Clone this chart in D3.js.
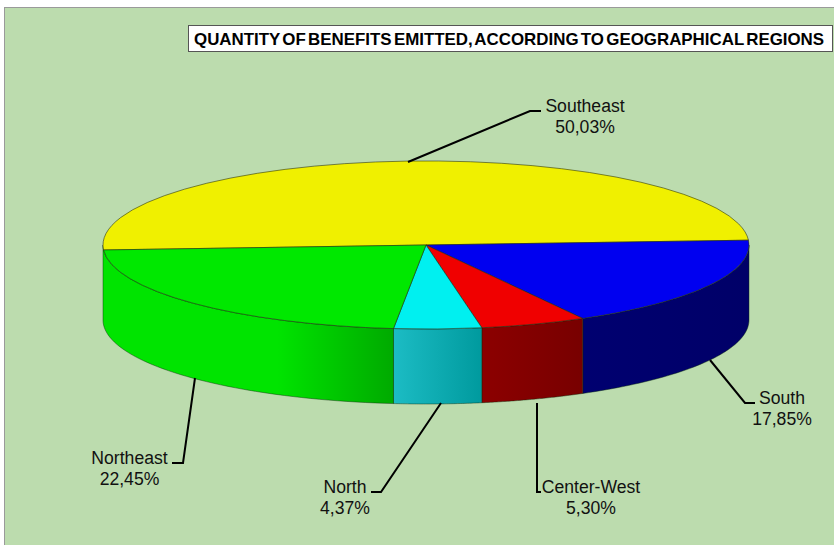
<!DOCTYPE html>
<html><head><meta charset="utf-8">
<script src="https://cdn.jsdelivr.net/npm/d3@7"></script>
<style>html,body{margin:0;padding:0;background:#fff}svg{display:block}text{font-family:"Liberation Sans",Arial,sans-serif}</style>
</head><body><svg id="c" width="834" height="545"></svg>
<script>
const categories=["Southeast","South","Center-West","North","Northeast"];
const values=[50.03,17.85,5.30,4.37,22.45];
const valueLabels=["50,03%","17,85%","5,30%","4,37%","22,45%"];
const topColors=["#f0f000","#0000f0","#f00000","#00f0f0","#00e800"];
const wallStart=["#a8a800","#000070","#8c0000","#1cbcc4","#00e400"];
const wallEnd=["#a8a800","#000068","#780000","#009a9e","#00aa00"];
const titleText="QUANTITY OF BENEFITS EMITTED, ACCORDING TO GEOGRAPHICAL REGIONS";

const W=834,H=545,cx=426,cy=245,rx=323,ry=84,depth=75;
const svg=d3.select("#c");
svg.append("rect").attr("x",4.5).attr("y",7.5).attr("width",W).attr("height",H).attr("fill","#bcdcae").attr("stroke","#9a9a9a");

const start=266.6*Math.PI/180;
const pie=d3.pie().sort(null).startAngle(start).endAngle(start+2*Math.PI);
const arcs=pie(values);
const px=a=>cx+rx*Math.sin(a), py=a=>cy-ry*Math.cos(a);
const defs=svg.append("defs");

const front=[Math.PI/2,3*Math.PI/2];
const steps=d3.range(0,1.0001,0.02);
arcs.forEach((d,i)=>{
  if(i===0) return;
  const a0=d.startAngle,a1=d.endAngle;
  [[front[0],front[1]],[front[0]+2*Math.PI,front[1]+2*Math.PI]].forEach(([lo,hi],k)=>{
    const s=Math.max(a0,lo);
    let e=Math.min(a1,hi);
    if(i===4&&k===1) e=hi;
    if(e<=s) return;
    const id="wall"+i+"_"+k;
    const xa=px(s),xb=px(e);
    const g=defs.append("linearGradient").attr("id",id).attr("gradientUnits","userSpaceOnUse")
      .attr("x1",Math.min(xa,xb)).attr("x2",Math.max(xa,xb)).attr("y1",0).attr("y2",0);
    g.append("stop").attr("offset",i===4?"0.6":"0").attr("stop-color",wallStart[i]);
    g.append("stop").attr("offset","1").attr("stop-color",wallEnd[i]);
    const area=d3.area().x(t=>px(s+(e-s)*t)).y0(t=>py(s+(e-s)*t)).y1(t=>py(s+(e-s)*t)+depth);
    svg.append("path").attr("d",area(steps)).attr("fill",`url(#${id})`)
      .attr("stroke","#0a2a0a").attr("stroke-opacity",0.55).attr("stroke-width",0.8);
  });
});

const arc=d3.arc().innerRadius(0).outerRadius(rx);
const topFace=svg.append("g").attr("transform",`translate(${cx},${cy}) scale(1,${ry/rx})`);
topFace.selectAll("path").data(arcs).join("path").attr("d",arc)
  .attr("fill",(d,i)=>topColors[i]).attr("stroke","#202a10").attr("stroke-opacity",0.7)
  .attr("stroke-width",0.8).attr("vector-effect","non-scaling-stroke");

svg.append("rect").attr("x",188.5).attr("y",25.5).attr("width",644).attr("height",26).attr("fill","#fff").attr("stroke","#555");
svg.append("text").attr("x",194).attr("y",44.5).attr("font-size",16.9).attr("font-weight","bold").attr("fill","#000")
  .style("word-spacing","-2.4px").text(titleText);

const labelX=[585,782,591,345,129.5];
const labelY=[112,404,493,493,464];
const leaderStartX=[408,710,537,441,195];
const leaderStartY=[162,360,403,403,378];
const leaderMidX=[530,745,537,381,183];
const leaderMidY=[111,403,492,492,463];
const leaderEndX=[541,755,541,371,172];
const leaderEndY=[111,403,492,492,463];
categories.forEach((c,i)=>{
  svg.append("path").attr("fill","none").attr("stroke","#000").attr("stroke-width",2)
    .attr("d",d3.line()([[leaderStartX[i],leaderStartY[i]],[leaderMidX[i],leaderMidY[i]],[leaderEndX[i],leaderEndY[i]]]));
  const t=svg.append("text").attr("text-anchor","middle").attr("font-size",17.6).attr("fill","#111");
  t.append("tspan").attr("x",labelX[i]).attr("y",labelY[i]).text(c);
  t.append("tspan").attr("x",labelX[i]).attr("y",labelY[i]+20.5).text(valueLabels[i]);
});
</script></body></html>
